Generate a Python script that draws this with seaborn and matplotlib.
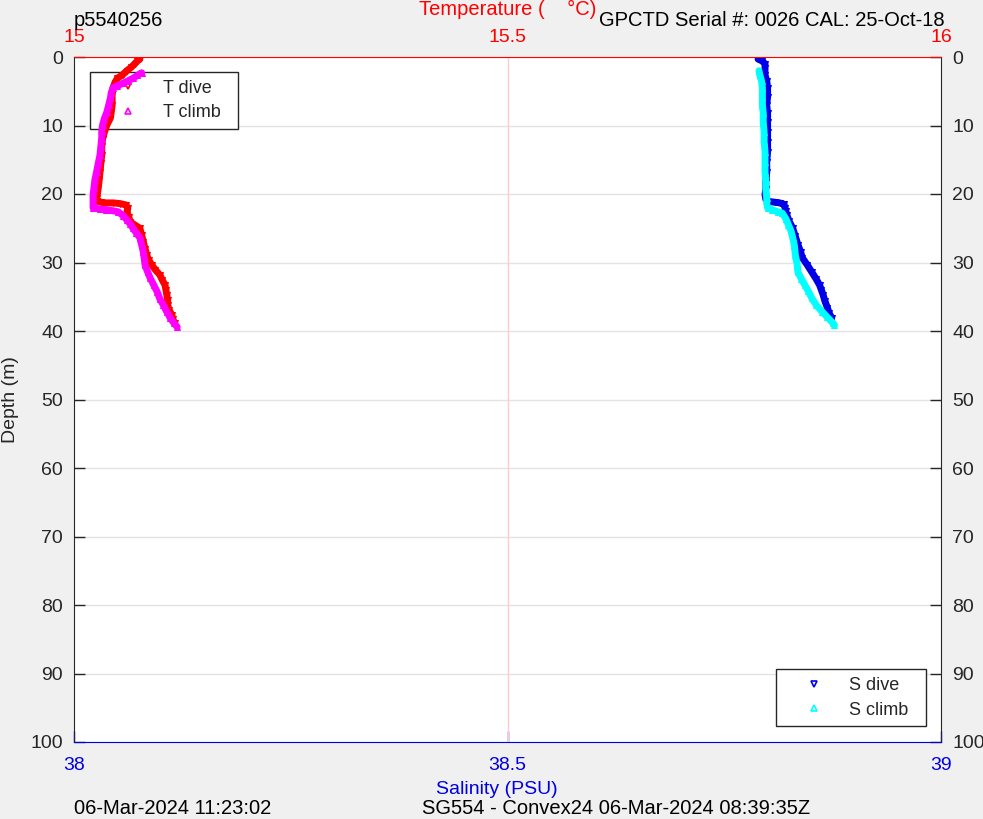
import matplotlib
matplotlib.use("Agg")
import matplotlib.pyplot as plt
from matplotlib.lines import Line2D
import seaborn as sns
import numpy as np
import pandas as pd

# temperature profiles (deg C)
t_dive_depth = [0.3, 0.6, 1.0, 1.5, 2.0, 2.6, 3.1, 3.8, 4.5, 5.5, 7.0, 8.0, 8.9, 9.9, 11.0,
                11.9, 13.0, 14.3, 15.5, 16.8, 18.0, 19.1, 20.0, 20.6, 21.0, 21.2, 21.3, 21.3,
                21.4, 21.6, 22.1, 22.6, 23.3, 24.1, 25.0, 26.0, 27.0, 28.0, 28.9, 29.6, 30.4,
                31.1, 31.8, 32.6, 33.3, 34.0, 34.7, 35.5, 36.2, 37.0, 37.7, 38.3, 38.8]
t_dive = [15.076, 15.073, 15.070, 15.066, 15.061, 15.056, 15.050, 15.047, 15.045, 15.044, 15.044,
          15.043, 15.042, 15.038, 15.035, 15.033, 15.032, 15.032, 15.031, 15.030, 15.029, 15.028,
          15.027, 15.026, 15.027, 15.031, 15.037, 15.045, 15.053, 15.060, 15.062, 15.061, 15.063,
          15.065, 15.076, 15.078, 15.080, 15.082, 15.084, 15.086, 15.090, 15.094, 15.099, 15.102,
          15.105, 15.106, 15.107, 15.108, 15.108, 15.110, 15.113, 15.114, 15.116]

t_climb_depth = [2.3, 2.7, 3.1, 3.5, 3.8, 4.2, 4.5, 5.2, 6.0, 7.0, 8.0, 9.0, 9.9, 10.8, 11.8,
                 13.0, 14.3, 15.5, 16.8, 18.0, 19.1, 20.2, 21.2, 22.0, 22.2, 22.3, 22.4, 22.6,
                 23.2, 23.8, 24.4, 25.0, 25.7, 26.4, 27.4, 28.5, 29.4, 30.4, 31.4, 32.3, 33.3,
                 34.3, 35.3, 36.2, 37.2, 38.1, 38.8, 39.4]
t_climb = [15.078, 15.073, 15.068, 15.062, 15.057, 15.050, 15.045, 15.043, 15.042, 15.040, 15.038,
           15.035, 15.033, 15.032, 15.032, 15.031, 15.030, 15.028, 15.026, 15.024, 15.023, 15.022,
           15.022, 15.022, 15.030, 15.037, 15.043, 15.051, 15.057, 15.061, 15.065, 15.068, 15.072,
           15.076, 15.078, 15.080, 15.081, 15.082, 15.085, 15.088, 15.092, 15.096, 15.099, 15.103,
           15.107, 15.111, 15.115, 15.119]

# salinity profiles (PSU)
s_dive_depth = [0.3, 0.6, 1.0, 1.6, 2.6, 3.5, 4.5, 5.8, 7.0, 8.2, 9.5, 11.0, 12.4, 13.8, 15.3,
                16.8, 18.2, 19.2, 20.1, 20.8, 21.1, 21.2, 21.3, 21.5, 22.0, 22.5, 23.0, 24.0,
                25.0, 26.2, 27.4, 28.4, 29.3, 30.4, 31.4, 32.4, 33.3, 34.0, 34.7, 35.6, 36.6,
                37.4, 38.1]
s_dive = [38.789, 38.794, 38.797, 38.797, 38.797, 38.799, 38.800, 38.800, 38.799, 38.800, 38.800,
          38.800, 38.800, 38.800, 38.799, 38.799, 38.798, 38.798, 38.797, 38.798, 38.802, 38.808,
          38.814, 38.819, 38.820, 38.821, 38.822, 38.825, 38.829, 38.832, 38.835, 38.838, 38.840,
          38.846, 38.851, 38.856, 38.860, 38.862, 38.864, 38.866, 38.869, 38.871, 38.874]

s_climb_depth = [2.0, 2.6, 3.5, 4.5, 5.8, 7.0, 8.2, 9.5, 11.0, 12.4, 13.8, 15.3, 16.8, 18.2,
                 19.4, 20.6, 21.4, 22.0, 22.3, 22.6, 22.8, 23.6, 24.5, 25.4, 26.4, 27.6, 28.9,
                 30.2, 31.4, 32.4, 33.3, 34.2, 35.2, 36.2, 37.2, 38.0, 38.8, 39.1]
s_climb = [38.790, 38.791, 38.793, 38.794, 38.794, 38.794, 38.795, 38.795, 38.796, 38.796, 38.797,
           38.797, 38.797, 38.798, 38.798, 38.799, 38.799, 38.800, 38.805, 38.812, 38.817, 38.821,
           38.824, 38.827, 38.829, 38.831, 38.832, 38.834, 38.835, 38.839, 38.843, 38.847, 38.851,
           38.856, 38.863, 38.869, 38.875, 38.877]

depth_ticks = list(range(0, 101, 10))
sal_ticks = [38, 38.5, 39]
sal_labels = ["38", "38.5", "39"]
temp_ticks = [15, 15.5, 16]
temp_labels = ["15", "15.5", "16"]

RED, MAG, BLUE, CYAN = "#ff0000", "#ff00ff", "#0000e6", "#00ffff"
GREY_BG = "#f0f0f0"

sns.set_style("white")
plt.rcParams["font.family"] = ["Liberation Sans", "DejaVu Sans"]

fig = plt.figure(figsize=(9.83, 8.19), dpi=100, facecolor=GREY_BG)
ax = fig.add_axes([74 / 983, 77 / 819, 867 / 983, 685 / 819])
ax.set_facecolor("white")
ax2 = ax.twiny()

t_dive_df = pd.DataFrame({"T": t_dive, "depth": t_dive_depth})
t_climb_df = pd.DataFrame({"T": t_climb, "depth": t_climb_depth})
s_dive_df = pd.DataFrame({"S": s_dive, "depth": s_dive_depth})
s_climb_df = pd.DataFrame({"S": s_climb, "depth": s_climb_depth})

kw = dict(sort=False, estimator=None, lw=5, markersize=5)
# salinity on the bottom axis
sns.lineplot(data=s_dive_df, x="S", y="depth", ax=ax, color=BLUE, marker="v",
             markeredgecolor=BLUE, zorder=3, **kw)
sns.lineplot(data=s_climb_df, x="S", y="depth", ax=ax, color=CYAN, marker="^",
             markeredgecolor=CYAN, zorder=4, **kw)
# temperature on the top axis
sns.lineplot(data=t_dive_df, x="T", y="depth", ax=ax2, color=RED, marker="v",
             markeredgecolor=RED, zorder=3, **kw)
sns.lineplot(data=t_climb_df, x="T", y="depth", ax=ax2, color=MAG, marker="^",
             markeredgecolor=MAG, zorder=4, **kw)

ax.set_xlim(38, 39)
ax2.set_xlim(15, 16)
ax.set_ylim(100, 0)
ax.set_yticks(depth_ticks)
ax.set_yticklabels([str(d) for d in depth_ticks])
ax.set_xticks(sal_ticks)
ax.set_xticklabels(sal_labels)
ax2.set_xticks(temp_ticks)
ax2.set_xticklabels(temp_labels)

ax.grid(axis="y", color="#e3e3e3", lw=1)
ax.grid(axis="x", visible=False)
ax2.grid(axis="x", color="#ffcccc", lw=1)
gls = ax2.xaxis.get_gridlines()
gls[0].set_visible(False)
gls[-1].set_visible(False)
ax.set_axisbelow(True)

ax.tick_params(axis="y", direction="in", length=8, width=1, colors="#262626",
               labelsize=14, left=True, right=True, labelleft=True, labelright=True, pad=8)
ax.tick_params(axis="x", direction="in", length=8, width=1, colors=BLUE,
               labelsize=14, bottom=True, pad=11)
ax2.tick_params(axis="x", direction="in", length=0, colors=RED, labelsize=14, pad=8)

for side in ["left", "right"]:
    ax.spines[side].set_color("#262626")
    ax2.spines[side].set_visible(False)
ax.spines["bottom"].set_color(BLUE)
ax.spines["top"].set_visible(False)
ax2.spines["bottom"].set_visible(False)
ax2.spines["top"].set_color(RED)

ax.set_xlabel("")
ax2.set_xlabel("")
ax.set_ylabel("Depth (m)", fontsize=14, color="#262626", labelpad=8)

# legends
leg_kw = dict(borderaxespad=0, fancybox=False, edgecolor="#262626", fontsize=13,
              handlelength=3.4, handletextpad=0.25, borderpad=0.42, labelspacing=0.42,
              framealpha=1)
t_handles = [Line2D([], [], ls="none", marker="v", ms=5, mfc="none", mec=RED, mew=1.2),
             Line2D([], [], ls="none", marker="^", ms=5, mfc="none", mec=MAG, mew=1.2)]
leg_t = ax2.legend(t_handles, ["T dive", "T climb  "], loc="upper left",
                   bbox_to_anchor=(0.018, 0.978), **leg_kw)
leg_t.get_frame().set_linewidth(1)
leg_t.set_zorder(2)  # profiles are drawn over the legend box

s_handles = [Line2D([], [], ls="none", marker="v", ms=5, mfc="none", mec=BLUE, mew=1.2),
             Line2D([], [], ls="none", marker="^", ms=5, mfc="none", mec=CYAN, mew=1.2)]
leg_s = ax.legend(s_handles, ["S dive", "S climb  "], loc="lower right",
                  bbox_to_anchor=(0.983, 0.023), **leg_kw)
leg_s.get_frame().set_linewidth(1)

# annotations around the plot
fig.text(74 / 983, 1 - 20 / 819, "p5540256", fontsize=14.5, color="black", va="center", ha="left")
fig.text(508 / 983, 1 - 9 / 819, "Temperature (    °C)", fontsize=14.5, color=RED,
         va="center", ha="center")
fig.text(945 / 983, 1 - 20 / 819, "GPCTD Serial #: 0026 CAL: 25-Oct-18", fontsize=14.5,
         color="black", va="center", ha="right")
fig.text(497 / 983, 1 - 790 / 819, "Salinity (PSU)", fontsize=14, color=BLUE,
         va="center", ha="center")
fig.text(74 / 983, 1 - 809 / 819, "06-Mar-2024 11:23:02", fontsize=14.5, color="black",
         va="center", ha="left")
fig.text(422 / 983, 1 - 809 / 819, "SG554 - Convex24 06-Mar-2024 08:39:35Z", fontsize=14.5,
         color="black", va="center", ha="left")

fig.savefig("out.png", dpi=100, facecolor=GREY_BG)
